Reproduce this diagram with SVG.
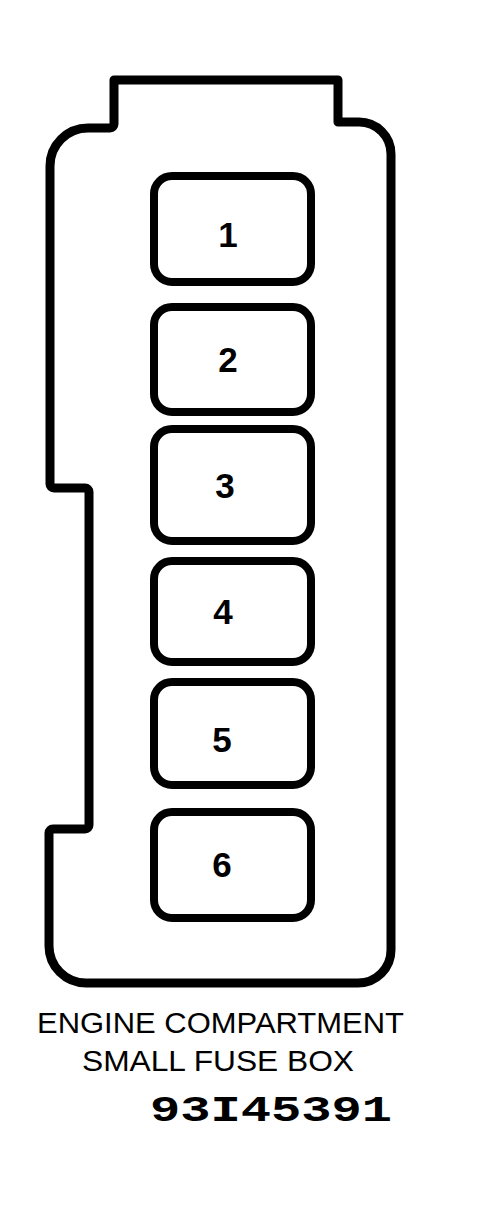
<svg xmlns="http://www.w3.org/2000/svg" width="486" height="1208" viewBox="0 0 486 1208">
<style>
.outline{fill:none;stroke:#000;stroke-width:9;stroke-linejoin:round}
.fuse{fill:#fff;stroke:#000;stroke-width:8}
.num{font-family:"Liberation Sans",Arial,sans-serif;font-weight:bold;font-size:35px;text-anchor:middle;fill:#000}
.cap{font-family:"Liberation Sans",Arial,sans-serif;font-size:29px;fill:#000}
.code{font-family:"Liberation Mono","Courier New",monospace;font-weight:bold;font-size:37px;fill:#000}
</style>
<rect width="486" height="1208" fill="#fff"/>
<g id="housing">
<path class="outline" d="M114,80 H338 V122 H359 A32,32 0 0 1 391,154 V950 A33,33 0 0 1 358,983 H86 A37,37 0 0 1 49,946 V833 A4,4 0 0 1 53,829 H85 A4,4 0 0 0 89,825 V492 A4,4 0 0 0 85,488 H54 A4,4 0 0 1 50,484 V166 A38,38 0 0 1 88,128 H110 A4,4 0 0 0 114,124 Z"/>
</g>
<g id="fuse1"><rect class="fuse" x="154" y="176" width="157" height="106" rx="18"/><text class="num" x="228" y="247">1</text></g>
<g id="fuse2"><rect class="fuse" x="154" y="307" width="157" height="105" rx="18"/><text class="num" x="228" y="372">2</text></g>
<g id="fuse3"><rect class="fuse" x="154" y="429" width="157" height="112" rx="18"/><text class="num" x="225" y="498">3</text></g>
<g id="fuse4"><rect class="fuse" x="154" y="561" width="157" height="101" rx="18"/><text class="num" x="223" y="624">4</text></g>
<g id="fuse5"><rect class="fuse" x="154" y="682" width="157" height="103" rx="18"/><text class="num" x="222" y="752">5</text></g>
<g id="fuse6"><rect class="fuse" x="154" y="812" width="157" height="106" rx="18"/><text class="num" x="222" y="877">6</text></g>
<g id="connectors"></g>
<g id="caption">
<text class="cap" x="37" y="1033" textLength="367" lengthAdjust="spacingAndGlyphs">ENGINE COMPARTMENT</text>
<text class="cap" x="82" y="1071" textLength="272" lengthAdjust="spacingAndGlyphs">SMALL FUSE BOX</text>
<text class="code" x="150" y="1121" textLength="242" lengthAdjust="spacingAndGlyphs">93I45391</text>
</g>
</svg>
